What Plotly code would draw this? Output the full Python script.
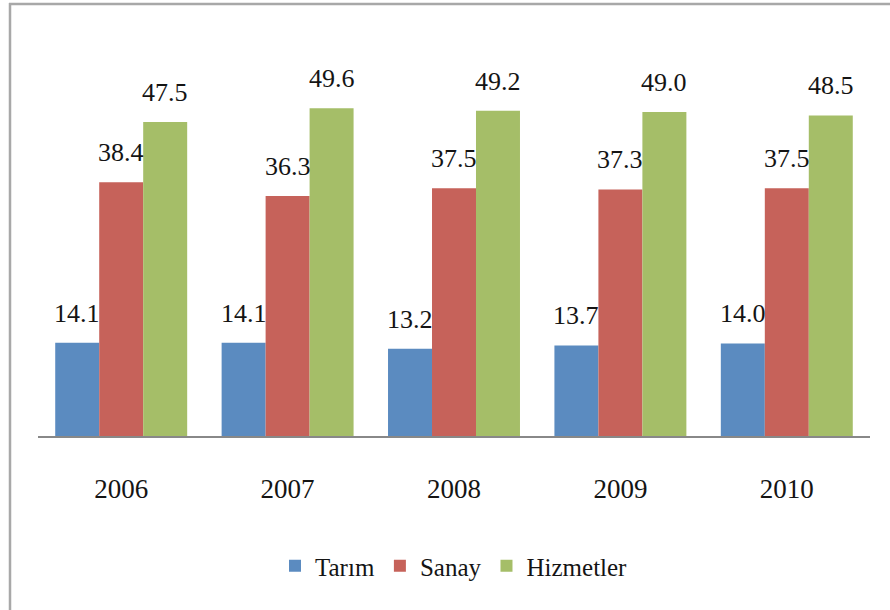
import plotly.graph_objects as go

years = ["2006", "2007", "2008", "2009", "2010"]
tarim = [14.1, 14.1, 13.2, 13.7, 14.0]
sanay = [38.4, 36.3, 37.5, 37.3, 37.5]
hizmetler = [47.5, 49.6, 49.2, 49.0, 48.5]
series_names = ["Tarım", "Sanay", "Hizmetler"]
colors = ["#5B8BC0", "#C6625A", "#A5BE68"]

FONT = "'Liberation Serif', 'DejaVu Serif', serif"
fig = go.Figure()
all_series = [tarim, sanay, hizmetler]
for name, vals, col in zip(series_names, all_series, colors):
    fig.add_trace(go.Bar(x=years, y=vals, name=name, marker=dict(color=col, line=dict(width=0))))

# value labels above bars (category index positions)
shifts = [-44, 0, 44]
for vals, sh in zip(all_series, shifts):
    for i, v in enumerate(vals):
        fig.add_annotation(x=i, y=v, text=f"{v:.1f}", showarrow=False,
                           xref="x", yref="y", xanchor="center", yanchor="bottom",
                           xshift=sh, yshift=13,
                           font=dict(family=FONT, size=26, color="#141414"))

L, R, T, B = 38, 20, 40, 174
W, H = 890, 610
pw = W - L - R
ph = H - T - B

def px(x):
    return (x - L) / pw

def py(y):
    return (H - B - y) / ph

fig.add_shape(type="line", xref="paper", yref="paper",
              x0=px(10), x1=px(10), y0=py(3), y1=py(615),
              line=dict(color="#A8A8A8", width=2.5))
fig.add_shape(type="line", xref="paper", yref="paper",
              x0=px(9), x1=px(895), y0=py(4), y1=py(4),
              line=dict(color="#A8A8A8", width=2.5))

fig.update_layout(
    width=W, height=H,
    margin=dict(l=L, r=R, t=T, b=B),
    paper_bgcolor="white", plot_bgcolor="white",
    barmode="group", bargap=0.207, bargroupgap=0,
    font=dict(family=FONT, color="#141414"),
    showlegend=True,
    legend=dict(orientation="h", x=0.5, xanchor="center", y=py(566), yanchor="middle",
                font=dict(family=FONT, size=25, color="#141414"),
                itemsizing="constant", traceorder="normal"),
    xaxis=dict(type="category", range=[-0.5, 4.5], showline=True, linecolor="#888888", linewidth=2, ticks="",
               tickfont=dict(family=FONT, size=27, color="#141414"),
               ticklabelstandoff=28, showgrid=False, zeroline=False),
    yaxis=dict(range=[0, ph / 6.61], visible=False, showgrid=False, zeroline=False),
)

fig.write_html("out.html", post_script="document.body.style.margin='0';",
               config={"displayModeBar": False})
